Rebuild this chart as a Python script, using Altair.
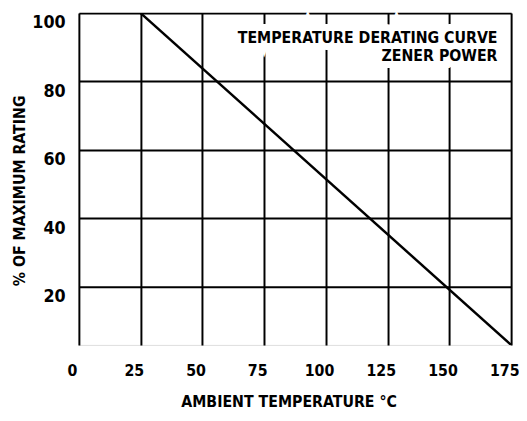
import altair as alt
import pandas as pd

# Data
temp = [25, 175]
rating = [100, 3]
x_ticks = [0, 25, 50, 75, 100, 125, 150, 175]
y_ticks = [20, 40, 60, 80, 100]
title_lines = ["TEMPERATURE DERATING CURVE", "ZENER POWER"]
title_x = [169.5, 169.5]
title_y = [92.8, 87.4]

FONT = "Liberation Sans Narrow, DejaVu Sans Condensed, Liberation Sans, sans-serif"

line_df = pd.DataFrame({"t": temp, "r": rating})
txt_df = pd.DataFrame({"label": title_lines, "x": title_x, "y": title_y})

xs = alt.Scale(domain=[0, 175], nice=False, zero=False)
ys = alt.Scale(domain=[3, 100], nice=False, zero=False)

x_axis = alt.Axis(
    values=x_ticks, title="AMBIENT TEMPERATURE °C", ticks=False, domain=False,
    grid=True, gridColor="black", gridWidth=2, gridOpacity=1,
    labelFont=FONT, labelFontSize=16, labelFontWeight="bold", labelColor="black",
    labelPadding=18, labelOffset=-7, labelFlush=False, labelOverlap=False,
    titleFont=FONT, titleFontSize=16, titleFontWeight="bold", titleColor="black",
    titleX=213, titleY=58, titleBaseline="middle", titleAnchor="middle",
)
y_axis = alt.Axis(
    values=y_ticks, title="% OF MAXIMUM RATING", ticks=False, domain=False,
    grid=True, gridColor="black", gridWidth=2, gridOpacity=1,
    labelFont=FONT, labelFontSize=18, labelFontWeight="bold", labelColor="black",
    labelPadding=14, labelOffset=10, labelFlush=False, labelOverlap=False,
    titleFont=FONT, titleFontSize=16, titleFontWeight="bold", titleColor="black",
    titleX=-60, titleY=180, titleBaseline="middle", titleAnchor="middle",
)

line = alt.Chart(line_df).mark_line(color="black", strokeWidth=2.5, clip=True).encode(
    x=alt.X("t:Q", scale=xs, axis=x_axis),
    y=alt.Y("r:Q", scale=ys, axis=y_axis),
)

halo = alt.Chart(txt_df).mark_text(
    font=FONT, fontSize=16, fontWeight="bold", align="right", baseline="middle",
    stroke="white", strokeWidth=14, color="white",
).encode(x=alt.X("x:Q", scale=xs), y=alt.Y("y:Q", scale=ys), text="label:N")

txt = alt.Chart(txt_df).mark_text(
    font=FONT, fontSize=16, fontWeight="bold", align="right", baseline="middle",
    color="black",
).encode(x=alt.X("x:Q", scale=xs), y=alt.Y("y:Q", scale=ys), text="label:N")

chart = alt.layer(halo, line, txt).properties(
    width=439, height=337,
    autosize=alt.AutoSizeParams(type="none"),
    padding={"left": 72, "top": 2, "right": 8, "bottom": 70},
).configure_view(stroke="black", strokeWidth=2.5).configure(background="white")

chart.save("out.html", embed_options={"renderer": "svg", "actions": False})
